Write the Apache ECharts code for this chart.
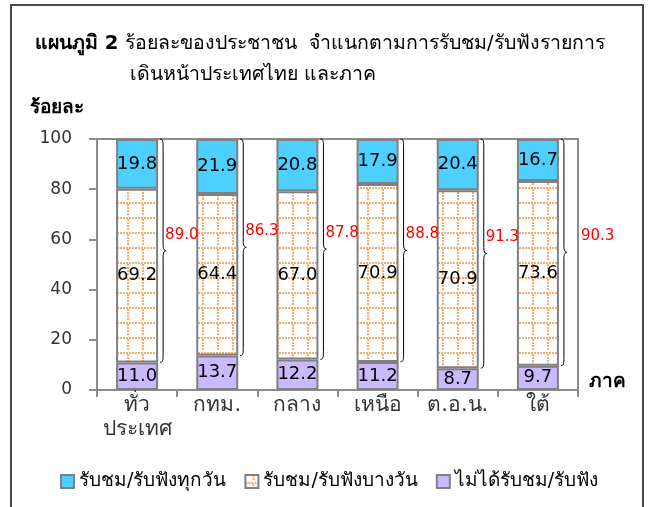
<!DOCTYPE html>
<html>
<head>
<meta charset="utf-8">
<script src="https://cdn.jsdelivr.net/npm/echarts@6/dist/echarts.min.js"></script>
<style>
  html, body { margin: 0; padding: 0; background: #fff; }
  #main { width: 650px; height: 507px; }
</style>
</head>
<body>
<div id="main"></div>
<script>
// ข้อมูลจากแผนภูมิ
var regions = ['ทั่ว\nประเทศ', 'กทม.', 'กลาง', 'เหนือ', 'ต.อ.น.', 'ใต้'];
var notWatch = [11.0, 13.7, 12.2, 11.2, 8.7, 9.7];
var someDays = [69.2, 64.4, 67.0, 70.9, 70.9, 73.6];
var everyDay = [19.8, 21.9, 20.8, 17.9, 20.4, 16.7];
var watchTotal = [89.0, 86.3, 87.8, 88.8, 91.3, 90.3];
var yTicks = [0, 20, 40, 60, 80, 100];

var FONT = 'Tahoma, "DejaVu Sans", "Noto Sans", sans-serif';
var BAR_W = 42;

// ลายตารางจุดสีส้ม
function makePattern() {
  var c = document.createElement('canvas');
  c.width = 15; c.height = 15;
  var ctx = c.getContext('2d');
  ctx.fillStyle = '#fff';
  ctx.fillRect(0, 0, 15, 15);
  ctx.fillStyle = 'rgba(247,150,70,0.8)';
  for (var i = 0; i < 15; i += 3) {
    ctx.fillRect(i, 7, 2, 2);
    if (i !== 6) ctx.fillRect(7, i, 2, 2);
  }
  return c;
}
var dotted = { image: makePattern(), repeat: 'repeat' };

var chart = echarts.init(document.getElementById('main'));

var barLabel = {
  show: true,
  position: 'inside',
  color: '#000',
  fontSize: 18,
  fontFamily: FONT,
  formatter: function (p) { return p.value.toFixed(1); }
};

chart.setOption({
  animation: false,
  textStyle: { fontFamily: FONT },
  grid: {
    left: 97, right: 72, top: 139, bottom: 117,
    show: true, borderColor: '#8c8c8c', borderWidth: 2
  },
  graphic: [
    { type: 'rect', shape: { x: 11, y: 5, width: 632, height: 520 },
      style: { fill: 'none', stroke: '#4d4d4d', lineWidth: 2 } },
    { type: 'text', left: 35, top: 34,
      style: { text: '{b|แผนภูมิ 2} ร้อยละของประชาชน  จำแนกตามการรับชม/รับฟังรายการ',
        fontSize: 19.5, fontFamily: FONT, fill: '#000',
        rich: { b: { fontWeight: 'bold', fontSize: 19.5, fontFamily: FONT } } } },
    { type: 'text', left: 130, top: 65,
      style: { text: 'เดินหน้าประเทศไทย และภาค', fontSize: 19.5, fontFamily: FONT, fill: '#000' } },
    { type: 'text', left: 30, top: 99,
      style: { text: 'ร้อยละ', fontSize: 19, fontWeight: 'bold', fontFamily: FONT, fill: '#000' } },
    { type: 'text', left: 589, top: 373,
      style: { text: 'ภาค', fontSize: 19, fontWeight: 'bold', fontFamily: FONT, fill: '#000' } }
  ],
  legend: {
    left: 55, top: 467,
    itemWidth: 13, itemHeight: 13, itemGap: 18,
    icon: 'rect',
    textStyle: { fontSize: 19, color: '#000', fontFamily: FONT },
    data: ['รับชม/รับฟังทุกวัน', 'รับชม/รับฟังบางวัน', 'ไม่ได้รับชม/รับฟัง']
  },
  xAxis: {
    type: 'category',
    data: regions,
    axisLine: { lineStyle: { color: '#8c8c8c', width: 2 } },
    axisTick: { show: true, length: 7, lineStyle: { color: '#8c8c8c', width: 2 } },
    axisLabel: { color: '#333', fontSize: 21, margin: 4, lineHeight: 24, interval: 0 }
  },
  yAxis: {
    type: 'value',
    min: yTicks[0], max: yTicks[yTicks.length - 1], interval: 20,
    splitLine: { show: false },
    axisLine: { show: true, lineStyle: { color: '#8c8c8c', width: 2 } },
    axisTick: { show: true, length: 8, lineStyle: { color: '#8c8c8c', width: 2 } },
    axisLabel: { color: '#333', fontSize: 17, margin: 25 }
  },
  series: [
    {
      name: 'ไม่ได้รับชม/รับฟัง', type: 'bar', stack: 'all', barWidth: BAR_W,
      data: notWatch,
      itemStyle: { color: '#CBB9FF', borderColor: '#808080', borderWidth: 2 },
      label: barLabel
    },
    {
      name: 'รับชม/รับฟังบางวัน', type: 'bar', stack: 'all', barWidth: BAR_W,
      data: someDays,
      itemStyle: { color: dotted, borderColor: '#808080', borderWidth: 2 },
      label: barLabel
    },
    {
      name: 'รับชม/รับฟังทุกวัน', type: 'bar', stack: 'all', barWidth: BAR_W,
      data: everyDay,
      itemStyle: { color: '#4DCFFF', borderColor: '#808080', borderWidth: 2 },
      label: barLabel
    },
    {
      // วงเล็บปีกกาและผลรวม
      name: 'brace', type: 'custom',
      data: regions.map(function (r, i) { return [i, notWatch[i], watchTotal[i]]; }),
      z: 5,
      renderItem: function (params, api) {
        var top = api.coord([api.value(0), 100]);
        var bot = api.coord([api.value(0), api.value(1)]);
        var x = top[0] + BAR_W / 2 + 2;
        var yT = top[1], yB = bot[1], yM = (yT + yB) / 2;
        var d = 'M' + x + ' ' + yT +
          ' C' + (x + 3) + ' ' + yT + ' ' + (x + 3) + ' ' + (yT + 3) + ' ' + (x + 3) + ' ' + (yT + 8) +
          ' L' + (x + 3) + ' ' + (yM - 6) +
          ' C' + (x + 3) + ' ' + (yM - 2) + ' ' + (x + 4) + ' ' + yM + ' ' + (x + 6) + ' ' + yM +
          ' C' + (x + 4) + ' ' + yM + ' ' + (x + 3) + ' ' + (yM + 2) + ' ' + (x + 3) + ' ' + (yM + 6) +
          ' L' + (x + 3) + ' ' + (yB - 8) +
          ' C' + (x + 3) + ' ' + (yB - 3) + ' ' + (x + 3) + ' ' + yB + ' ' + x + ' ' + yB;
        var lx = params.dataIndex === regions.length - 1 ? x + 20 : x + 5;
        return {
          type: 'group',
          children: [
            { type: 'path', shape: { pathData: d },
              style: { fill: 'none', stroke: '#000', lineWidth: 1 } },
            { type: 'text',
              style: { x: lx, y: yM - 16, text: api.value(2).toFixed(1),
                fill: '#FF0000', fontSize: 15, fontFamily: FONT,
                textVerticalAlign: 'middle', textAlign: 'left' } }
          ]
        };
      }
    }
  ]
});
</script>
</body>
</html>
